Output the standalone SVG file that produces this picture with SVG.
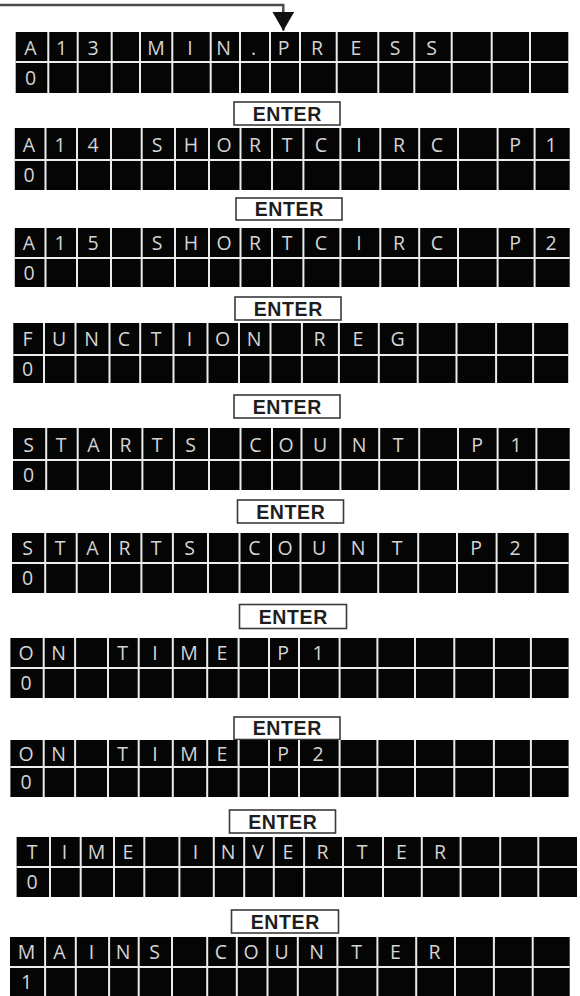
<svg xmlns="http://www.w3.org/2000/svg" width="580" height="996" viewBox="0 0 580 996">
<style>
.scr{fill:#050505}
.grid{stroke:#ececec;stroke-width:2;fill:none}
.ch{font-family:"Open Sans","Liberation Sans",sans-serif;font-size:19.5px;fill:#d4d4d4;text-anchor:middle}
.btn rect{fill:#fff;stroke:#3a3a3a;stroke-width:1.6}
.btn text{font-family:"Liberation Sans","Open Sans",sans-serif;font-weight:bold;font-size:19.5px;fill:#1e1e1e;text-anchor:middle;letter-spacing:0.6px}
.conn{stroke:#4a4a4a;stroke-width:2.4;fill:none}
</style>
<defs>
<marker id="ah" markerUnits="userSpaceOnUse" viewBox="0 0 19 22" refX="19" refY="11" markerWidth="19" markerHeight="22" orient="auto">
<path d="M0 0L19 11L0 22Z" fill="#111"/>
</marker>
</defs>
<rect width="580" height="996" fill="#fff"/>

<g id="connectors">
<path class="conn" d="M0 5H283.3V30.7" marker-end="url(#ah)"/>
</g>

<g id="display1">
<rect class="scr" x="15.7" y="32" width="552.6" height="61"/>
<path class="grid" d="M48.3 32v61M77.7 32v61M111.7 32v61M140 32v61M172.3 32v61M210.7 32v61M240 32v61M270 32v61M300 32v61M336.7 32v61M378.3 32v61M414.3 32v61M451.7 32v61M491.7 32v61M530 32v61M15.7 62H568.3"/>
<text class="ch" x="30.5 61.5 93 124.5 156 190 223.5 253.5 283.5 317 356 395 431.5" y="54.5">A13 MIN.PRESS</text>
<text class="ch" x="30.5" y="84.5">0</text>
</g>

<g id="enter1" class="btn"><rect x="234" y="102" width="106" height="23"/><text x="287.3" y="120.5">ENTER</text></g>

<g id="display2">
<rect class="scr" x="14.8" y="128" width="554.9" height="62"/>
<path class="grid" d="M45.5 128v62M77 128v62M111 128v62M141.7 128v62M175 128v62M209 128v62M240.5 128v62M272 128v62M303.4 128v62M340.4 128v62M380.3 128v62M419.2 128v62M458 128v62M497.6 128v62M534.6 128v62M14.8 160H569.7"/>
<text class="ch" x="29 60 93 125 157 191 224 255 287 321 359 399 437 477 515 551" y="151.5">A14 SHORTCIRC P1</text>
<text class="ch" x="29" y="182">0</text>
</g>

<g id="enter2" class="btn"><rect x="236" y="198" width="106" height="22"/><text x="289.3" y="216">ENTER</text></g>

<g id="display3">
<rect class="scr" x="14.8" y="228" width="554.9" height="59"/>
<path class="grid" d="M45.5 228v59M77 228v59M111 228v59M141.7 228v59M175 228v59M209 228v59M240.5 228v59M272 228v59M303.4 228v59M340.4 228v59M380.3 228v59M419.2 228v59M458 228v59M497.6 228v59M534.6 228v59M14.8 258H569.7"/>
<text class="ch" x="29 60 93 125 157 191 224 255 287 321 359 399 437 477 515 551" y="250">A15 SHORTCIRC P2</text>
<text class="ch" x="29" y="279.5">0</text>
</g>

<g id="enter3" class="btn"><rect x="235" y="297" width="106" height="23"/><text x="288.3" y="315.5">ENTER</text></g>

<g id="display4">
<rect class="scr" x="13.3" y="323" width="554.9" height="60"/>
<path class="grid" d="M44 323v60M75.5 323v60M109.5 323v60M140.2 323v60M173.5 323v60M207.5 323v60M239 323v60M270.5 323v60M301.9 323v60M338.9 323v60M378.8 323v60M417.7 323v60M456.5 323v60M496.1 323v60M533.1 323v60M13.3 355H568.2"/>
<text class="ch" x="27.5 59 91.5 124 156 189.5 222.5 254 285 319.5 358 397.5" y="346">FUNCTION REG</text>
<text class="ch" x="27.5" y="376">0</text>
</g>

<g id="enter4" class="btn"><rect x="234" y="395" width="106" height="23"/><text x="287.3" y="413.5">ENTER</text></g>

<g id="display5">
<rect class="scr" x="13" y="428" width="556.7" height="62"/>
<path class="grid" d="M46.2 428v62M77.7 428v62M111 428v62M142.4 428v62M173.9 428v62M209 428v62M240.5 428v62M272 428v62M301.5 428v62M340.4 428v62M379.2 428v62M419.2 428v62M458 428v62M497.6 428v62M536.4 428v62M13 460H569.7"/>
<text class="ch" x="28.5 61 93.5 125.5 157 190.5 224 255.5 286 320 359 398 437.5 477 516" y="451.5">STARTS COUNT P1</text>
<text class="ch" x="28.5" y="482">0</text>
</g>

<g id="enter5" class="btn"><rect x="237.5" y="500" width="106" height="23"/><text x="290.8" y="518.5">ENTER</text></g>

<g id="display6">
<rect class="scr" x="12" y="533" width="556.7" height="60"/>
<path class="grid" d="M45.2 533v60M76.7 533v60M110 533v60M141.4 533v60M172.9 533v60M208 533v60M239.5 533v60M271 533v60M300.5 533v60M339.4 533v60M378.2 533v60M418.2 533v60M457 533v60M496.6 533v60M535.4 533v60M12 563H568.7"/>
<text class="ch" x="27.5 60 92.5 124.5 156 189.5 223 254.5 285 319 358 397 436.5 476 515" y="555">STARTS COUNT P2</text>
<text class="ch" x="27.5" y="585">0</text>
</g>

<g id="enter6" class="btn"><rect x="239.5" y="604.5" width="107" height="24"/><text x="293.3" y="623.5">ENTER</text></g>

<g id="display7">
<rect class="scr" x="10.4" y="638" width="558.2" height="60"/>
<path class="grid" d="M43.7 638v60M75.1 638v60M108 638v60M138.7 638v60M172.8 638v60M207.2 638v60M238.6 638v60M269 638v60M299 638v60M339.6 638v60M377.4 638v60M415 638v60M454.3 638v60M493.9 638v60M530.9 638v60M10.4 668H568.6"/>
<text class="ch" x="26 58.5 90.5 122.5 155 189 222 253 283 318" y="660">ON TIME P1</text>
<text class="ch" x="26" y="690">0</text>
</g>

<g id="enter7" class="btn"><rect x="234" y="717" width="106" height="22.5"/><text x="287.3" y="735">ENTER</text></g>

<g id="display8">
<rect class="scr" x="10.4" y="740" width="558.2" height="57"/>
<path class="grid" d="M43.7 740v57M75.1 740v57M108 740v57M138.7 740v57M172.8 740v57M207.2 740v57M238.6 740v57M269 740v57M299 740v57M339.6 740v57M377.4 740v57M415 740v57M454.3 740v57M493.9 740v57M530.9 740v57M10.4 767H568.6"/>
<text class="ch" x="26 58.5 90.5 122.5 155 189 222 253 283 318" y="760.5">ON TIME P2</text>
<text class="ch" x="26" y="789">0</text>
</g>

<g id="enter8" class="btn"><rect x="229.5" y="810" width="106" height="23"/><text x="282.8" y="828.5">ENTER</text></g>

<g id="display9">
<rect class="scr" x="16.6" y="837" width="560.4" height="60"/>
<path class="grid" d="M50 837v60M80.7 837v60M114 837v60M144.3 837v60M179.4 837v60M213.8 837v60M244.2 837v60M273.8 837v60M304.1 837v60M343 837v60M383 837v60M421.8 837v60M460.6 837v60M500.2 837v60M538.3 837v60M16.6 867H577"/>
<text class="ch" x="32 64.5 96.5 128 161 195.5 228 258 288 322.5 362 401.5 440" y="859">TIME INVERTER</text>
<text class="ch" x="32" y="889">0</text>
</g>

<g id="enter9" class="btn"><rect x="231.5" y="910" width="107" height="23"/><text x="285.3" y="928.5">ENTER</text></g>

<g id="display10">
<rect class="scr" x="10" y="937" width="559.7" height="60"/>
<path class="grid" d="M45.1 937v60M75.8 937v60M109.1 937v60M138.7 937v60M172 937v60M207.2 937v60M236.8 937v60M267.5 937v60M297.8 937v60M337.4 937v60M377.4 937v60M416.2 937v60M455 937v60M493.9 937v60M532.7 937v60M10 967H569.7"/>
<text class="ch" x="26.5 59.5 91.5 123 154.5 188.5 221 251 281.5 316.5 356.5 395.5 434.5" y="959">MAINS COUNTER</text>
<text class="ch" x="26.5" y="989">1</text>
</g>
</svg>
